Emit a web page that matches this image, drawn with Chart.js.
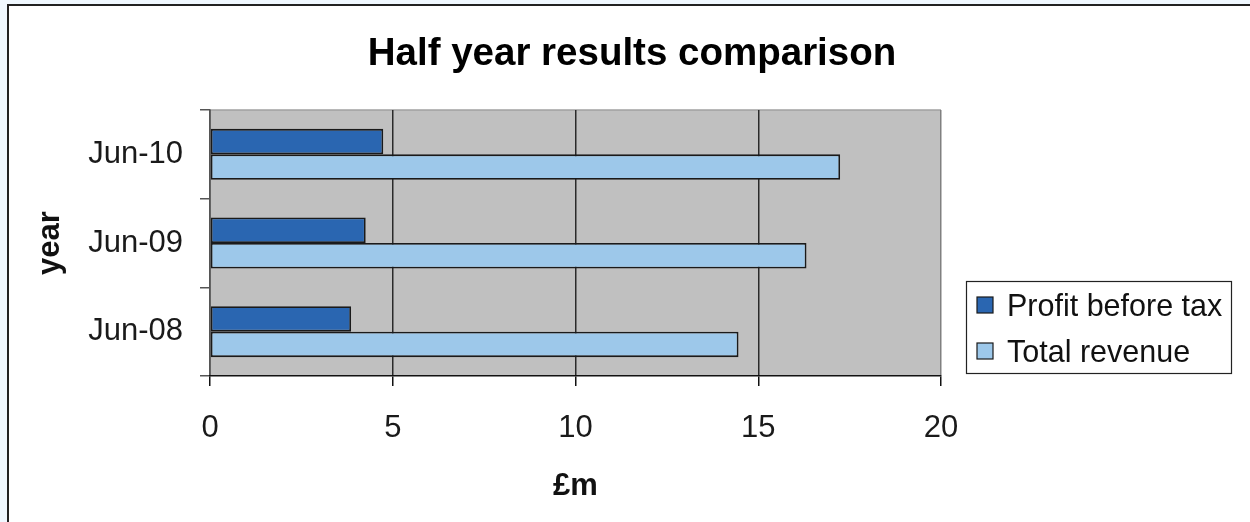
<!DOCTYPE html>
<html>
<head>
<meta charset="utf-8">
<script src="https://cdn.jsdelivr.net/npm/chart.js@4/dist/chart.umd.min.js"></script>
<style>
  body { margin: 0; background: #f0f8ff; overflow: hidden; }
  .frame { position: absolute; left: 7px; top: 4px; width: 1300px; height: 600px;
           background: #fff; border-left: 2px solid #222; border-top: 2px solid #222; }
  #chart { position: absolute; left: 0; top: 0; }
</style>
</head>
<body>
<div class="frame"></div>
<canvas id="chart" width="1250" height="522"></canvas>
<script>
const years = ["Jun-08", "Jun-09", "Jun-10"];
const profit = [3.86, 4.26, 4.74];
const revenue = [14.46, 16.32, 17.24];
const xTicks = [0, 5, 10, 15, 20];

const FONT = "'Liberation Sans', Arial, Helvetica, sans-serif";

// grey plot background + light top edge
const plotBg = {
  id: "plotBg",
  beforeDraw(chart) {
    const { ctx, chartArea: a } = chart;
    ctx.save();
    ctx.fillStyle = "#c0c0c0";
    ctx.fillRect(a.left, a.top, a.right - a.left, a.bottom - a.top);
    ctx.strokeStyle = "#a0a0a0";
    ctx.lineWidth = 1.5;
    ctx.beginPath();
    ctx.moveTo(a.left, a.top);
    ctx.lineTo(a.right, a.top);
    ctx.stroke();
    ctx.restore();
  }
};

// title and boxed legend, drawn by hand
const extras = {
  id: "extras",
  afterDraw(chart) {
    const ctx = chart.ctx;
    ctx.save();
    ctx.fillStyle = "#000";
    ctx.font = "bold 38.5px " + FONT;
    ctx.textAlign = "center";
    ctx.textBaseline = "alphabetic";
    ctx.fillText("Half year results comparison", 632, 65);

    ctx.strokeStyle = "#222";
    ctx.lineWidth = 1.2;
    ctx.strokeRect(966.5, 281.5, 265, 92);

    ctx.font = "30.5px " + FONT;
    ctx.textAlign = "left";
    chart.data.datasets.forEach((ds, i) => {
      const cy = 305 + i * 46;
      ctx.fillStyle = ds.backgroundColor;
      ctx.fillRect(977, cy - 8, 16, 16);
      ctx.strokeStyle = "#1a1a1a";
      ctx.strokeRect(977, cy - 8, 16, 16);
      ctx.fillStyle = "#111";
      ctx.fillText(ds.label, 1007, cy + 11);
    });
    ctx.restore();
  }
};

new Chart(document.getElementById("chart"), {
  type: "bar",
  data: {
    labels: years,
    datasets: [
      {
        label: "Profit before tax",
        data: profit,
        backgroundColor: "#2a66b1",
        borderColor: "#1a1a1a",
        borderWidth: 1.8,
        borderSkipped: false,
        barPercentage: 1,
        categoryPercentage: 0.575
      },
      {
        label: "Total revenue",
        data: revenue,
        backgroundColor: "#9dc8ea",
        borderColor: "#1a1a1a",
        borderWidth: 1.8,
        borderSkipped: false,
        barPercentage: 1,
        categoryPercentage: 0.575
      }
    ]
  },
  options: {
    indexAxis: "y",
    responsive: false,
    animation: false,
    layout: { padding: { left: 10, top: 110, right: 309, bottom: 0 } },
    plugins: {
      legend: { display: false },
      title: { display: false },
      tooltip: { enabled: false }
    },
    scales: {
      y: {
        reverse: true,
        offset: true,
        afterFit(scale) { scale.width = 200; },
        grid: { offset: true, drawOnChartArea: false, drawTicks: true, tickLength: 10, tickColor: "#555", lineWidth: 1.5 },
        border: { color: "#555", width: 1.5 },
        ticks: { color: "#1a1a1a", padding: 17, font: { family: FONT, size: 31 } },
        title: { display: true, text: "year", color: "#111", padding: { top: 22 }, font: { family: FONT, size: 31, weight: "bold" } }
      },
      x: {
        min: 0,
        max: 20,
        afterFit(scale) { scale.height = 146; },
        afterBuildTicks(scale) { scale.ticks = xTicks.map(v => ({ value: v })); },
        grid: {
          color: ctx => (ctx.tick && ctx.tick.value === 20 ? "#808080" : "#2a2a2a"),
          lineWidth: 1.5,
          tickLength: 10,
          tickColor: "#111"
        },
        border: { color: "#111", width: 1.5 },
        ticks: { color: "#1a1a1a", padding: 24, font: { family: FONT, size: 31 } },
        title: { display: true, text: "£m", color: "#111", padding: { bottom: 17 }, font: { family: FONT, size: 31, weight: "bold" } }
      }
    }
  },
  plugins: [plotBg, extras]
});
</script>
</body>
</html>
